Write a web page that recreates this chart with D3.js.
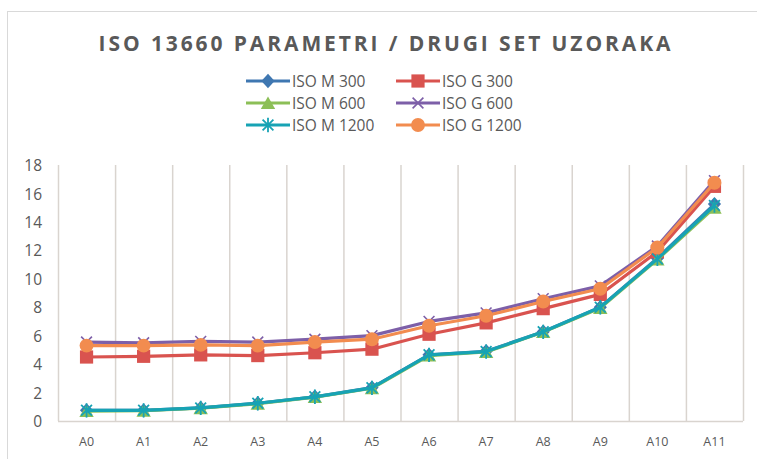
<!DOCTYPE html>
<html>
<head>
<meta charset="utf-8">
<script src="https://cdn.jsdelivr.net/npm/d3@7"></script>
<style>
  html, body { margin: 0; padding: 0; background: #fff; }
  svg { display: block; }
</style>
</head>
<body>
<svg id="chart" width="757" height="459"></svg>
<script>
// Sample categories and measured parameter values per series
const categories = ["A0","A1","A2","A3","A4","A5","A6","A7","A8","A9","A10","A11"];
const isoM300  = [0.75, 0.75, 0.92, 1.25, 1.7, 2.35, 4.65, 4.9, 6.28, 8.0, 11.45, 15.25];
const isoG300  = [4.5, 4.55, 4.65, 4.6, 4.8, 5.05, 6.1, 6.9, 7.9, 8.9, 11.9, 16.5];
const isoM600  = [0.7, 0.72, 0.9, 1.22, 1.68, 2.3, 4.6, 4.85, 6.25, 7.95, 11.35, 15.0];
const isoG600  = [5.55, 5.5, 5.6, 5.55, 5.75, 6.0, 7.0, 7.6, 8.6, 9.5, 12.3, 16.9];
const isoM1200 = [0.75, 0.75, 0.92, 1.25, 1.7, 2.33, 4.65, 4.88, 6.27, 8.0, 11.4, 15.15];
const isoG1200 = [5.3, 5.3, 5.35, 5.3, 5.55, 5.75, 6.7, 7.4, 8.4, 9.3, 12.2, 16.75];
const yTicks = [0, 2, 4, 6, 8, 10, 12, 14, 16, 18];

const series = [
  { name: "ISO M 300",  values: isoM300,  color: "#3f77b1", marker: "diamond" },
  { name: "ISO G 300",  values: isoG300,  color: "#d9534f", marker: "square" },
  { name: "ISO M 600",  values: isoM600,  color: "#8cbf57", marker: "triangle" },
  { name: "ISO G 600",  values: isoG600,  color: "#7d5fa8", marker: "cross" },
  { name: "ISO M 1200", values: isoM1200, color: "#17a3b4", marker: "star" },
  { name: "ISO G 1200", values: isoG1200, color: "#f28c4f", marker: "circle" }
];

const svg = d3.select("#chart");
const font = "'Open Sans', 'Noto Sans', sans-serif";

// outer chart frame
svg.append("rect")
  .attr("x", 7.5).attr("y", 11.5)
  .attr("width", 760).attr("height", 460)
  .attr("fill", "#fff").attr("stroke", "#d9d9d9").attr("stroke-width", 1);

// title
svg.append("text")
  .attr("x", 386).attr("y", 51)
  .attr("text-anchor", "middle")
  .attr("font-family", font)
  .attr("font-weight", "bold")
  .attr("font-size", 21)
  .attr("letter-spacing", 2.9)
  .attr("fill", "#595959")
  .text("ISO 13660 PARAMETRI / DRUGI SET UZORAKA");

const plot = { left: 58, right: 743, top: 165, bottom: 421 };

const x = d3.scaleBand().domain(categories).range([plot.left, plot.right]).paddingInner(0).paddingOuter(0);
const y = d3.scaleLinear().domain([0, 18]).range([plot.bottom, plot.top]);

// vertical category gridlines
const g = svg.append("g");
const bounds = categories.map(c => x(c)).concat([plot.right]);
g.selectAll("line.vgrid").data(bounds).enter().append("line")
  .attr("class", "vgrid")
  .attr("x1", d => d + 0.5).attr("x2", d => d + 0.5)
  .attr("y1", plot.top).attr("y2", plot.bottom)
  .attr("stroke", "#d9d4cf").attr("stroke-width", 1.5);

// baseline
g.append("line")
  .attr("x1", plot.left).attr("x2", plot.right)
  .attr("y1", plot.bottom + 0.5).attr("y2", plot.bottom + 0.5)
  .attr("stroke", "#d9d4cf").attr("stroke-width", 1.5);

// y axis labels
const yAxis = d3.axisLeft(y).tickValues(yTicks).tickSize(0).tickPadding(0);
const ya = svg.append("g").attr("transform", `translate(42,0)`).call(yAxis);
ya.select(".domain").remove();
ya.selectAll("text")
  .attr("font-family", font).attr("font-size", 15.5).attr("fill", "#595959")
  .attr("dy", "0.36em");

// x axis labels
const xAxis = d3.axisBottom(x).tickSize(0).tickPadding(0);
const xa = svg.append("g").attr("transform", `translate(0,${plot.bottom + 16})`).call(xAxis);
xa.select(".domain").remove();
xa.selectAll("text")
  .attr("font-family", font).attr("font-size", 12.5).attr("fill", "#595959");

const cx = c => x(c) + x.bandwidth() / 2;

function drawMarker(sel, type, color, s) {
  if (type === "diamond") {
    sel.append("path").attr("d", `M0,${-s*0.6}L${s*0.55},0L0,${s*0.6}L${-s*0.55},0Z`).attr("fill", color);
  } else if (type === "square") {
    sel.append("rect").attr("x", -s*0.55).attr("y", -s*0.55).attr("width", s*1.1).attr("height", s*1.1).attr("fill", color);
  } else if (type === "triangle") {
    sel.append("path").attr("d", `M0,${-s*0.55}L${s*0.6},${s*0.5}L${-s*0.6},${s*0.5}Z`).attr("fill", color);
  } else if (type === "cross") {
    sel.append("path").attr("d", `M${-s*0.45},${-s*0.45}L${s*0.45},${s*0.45}M${s*0.45},${-s*0.45}L${-s*0.45},${s*0.45}`)
      .attr("stroke", color).attr("stroke-width", 1.6).attr("fill", "none");
  } else if (type === "star") {
    sel.append("path").attr("d", `M${-s*0.45},${-s*0.45}L${s*0.45},${s*0.45}M${s*0.45},${-s*0.45}L${-s*0.45},${s*0.45}M0,${-s*0.6}L0,${s*0.6}`)
      .attr("stroke", color).attr("stroke-width", 1.8).attr("fill", "none");
  } else if (type === "circle") {
    sel.append("circle").attr("r", s*0.58).attr("fill", color);
  }
}

const line = d3.line().x((d, i) => cx(categories[i])).y(d => y(d));

series.forEach(s => {
  const sg = svg.append("g");
  sg.append("path").datum(s.values)
    .attr("d", line)
    .attr("fill", "none").attr("stroke", s.color)
    .attr("stroke-width", 3.2).attr("stroke-linejoin", "round");
  s.values.forEach((v, i) => {
    const m = sg.append("g").attr("transform", `translate(${cx(categories[i])},${y(v)})`);
    drawMarker(m, s.marker, s.color, 12);
  });
});

// legend: two columns, three rows
const legendCols = [246, 396];
const legendRows = [81, 103, 125];
series.forEach((s, i) => {
  const col = i % 2, row = Math.floor(i / 2);
  const lg = svg.append("g").attr("transform", `translate(${legendCols[col]},${legendRows[row]})`);
  lg.append("line").attr("x1", 0).attr("x2", 44).attr("y1", 0).attr("y2", 0)
    .attr("stroke", s.color).attr("stroke-width", 3.2);
  const m = lg.append("g").attr("transform", "translate(22,0)");
  drawMarker(m, s.marker, s.color, 12);
  lg.append("text").attr("x", 46).attr("y", 0).attr("dy", "0.36em")
    .attr("font-family", font).attr("font-size", 15.5).attr("fill", "#595959")
    .text(s.name);
});
</script>
</body>
</html>
